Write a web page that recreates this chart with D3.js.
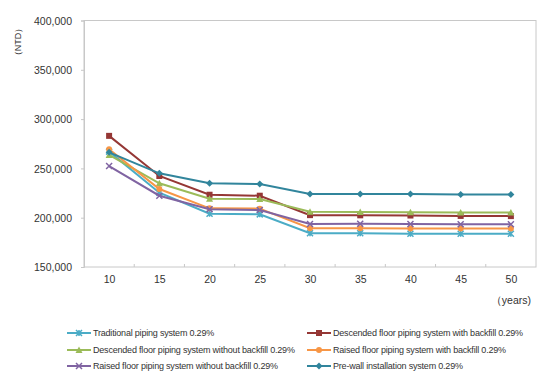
<!DOCTYPE html>
<html><head><meta charset="utf-8">
<script src="https://cdn.jsdelivr.net/npm/d3@7"></script>
<style>body{margin:0;background:#fff}svg{display:block}text{font-family:"Liberation Sans",Arial,sans-serif;fill:#333}</style>
</head><body><svg id="c" width="550" height="383"></svg>
<script>
const years = [10,15,20,25,30,35,40,45,50];
const yTicks = [150000,200000,250000,300000,350000,400000];
const seriesNames = [
 "Traditional piping system 0.29%",
 "Descended floor piping system with backfill 0.29%",
 "Descended floor piping system without backfill 0.29%",
 "Raised floor piping system with backfill 0.29%",
 "Raised floor piping system without backfill 0.29%",
 "Pre-wall installation system 0.29%"
];
const traditional = [267000,225400,204000,203400,184200,184200,183800,183800,183800];
const descendedWith = [283000,242300,223300,222300,202600,202400,202200,201800,201600];
const descendedWithout = [263600,234900,219300,219000,206000,205700,205500,205400,205300];
const raisedWith = [269400,229100,209500,209200,189300,189300,189100,189000,189000];
const raisedWithout = [252400,222300,208500,207800,193600,193800,193700,193300,193300];
const preWall = [266300,245000,234900,234200,224000,224000,224000,223500,223500];
const seriesValues = [traditional,descendedWith,descendedWithout,raisedWith,raisedWithout,preWall];
const colors = ["#4bacc6","#953735","#9bbb59","#f79646","#8064a2","#31859c"];
const markers = ["star","square","triangle","circle","cross","diamond"];

const svg = d3.select("#c");
const L=84,R=536,T=20.5,B=267;
const x = d3.scalePoint().domain(years).range([L,R]).padding(0.5);
const xb = d3.scaleBand().domain(years).range([L,R]);
const y = d3.scaleLinear().domain([150000,400000]).range([B,T]);

// frame
svg.append("rect").attr("x",L).attr("y",T).attr("width",R-L).attr("height",B-T)
  .attr("fill","none").attr("stroke","#c8c8c8").attr("stroke-width",1);

// y axis
const yAxis = svg.append("g").attr("transform",`translate(${L},0)`)
  .call(d3.axisLeft(y).tickValues(yTicks).tickSize(3).tickPadding(9).tickFormat(d3.format(",")));
yAxis.select(".domain").attr("stroke","#c8c8c8");
yAxis.selectAll(".tick line").attr("stroke","#c8c8c8");
yAxis.selectAll("text").attr("font-size",10.5).attr("fill","#333").attr("dy","0.35em").attr("y",0);

// x axis
const xAxis = svg.append("g").attr("transform",`translate(0,${B})`)
  .call(d3.axisBottom(x).tickSize(0).tickPadding(9));
xAxis.select(".domain").remove();
xAxis.selectAll("text").attr("font-size",10.5).attr("fill","#333");
svg.append("g").selectAll("line").data(years.slice(1)).join("line")
  .attr("x1",d=>xb(d)).attr("x2",d=>xb(d)).attr("y1",B).attr("y2",B-3)
  .attr("stroke","#c8c8c8");

svg.append("text").attr("x",531).attr("y",304).attr("text-anchor","end").attr("font-size",10.5).text("（years)");
svg.append("text").attr("transform","translate(21,42) rotate(-90)").attr("text-anchor","middle").attr("font-size",9).text("（NTD）");

function drawMarker(g, type, color, cx, cy){
  const s=3;
  if(type==="square") g.append("rect").attr("x",cx-s).attr("y",cy-s).attr("width",2*s).attr("height",2*s).attr("fill",color);
  else if(type==="circle") g.append("circle").attr("cx",cx).attr("cy",cy).attr("r",s).attr("fill",color);
  else if(type==="triangle") g.append("path").attr("d",`M${cx},${cy-s-0.5}L${cx+s+0.5},${cy+s}L${cx-s-0.5},${cy+s}Z`).attr("fill",color);
  else if(type==="diamond") g.append("path").attr("d",`M${cx},${cy-s-0.5}L${cx+s+0.5},${cy}L${cx},${cy+s+0.5}L${cx-s-0.5},${cy}Z`).attr("fill",color);
  else if(type==="cross") g.append("path").attr("d",`M${cx-s},${cy-s}L${cx+s},${cy+s}M${cx-s},${cy+s}L${cx+s},${cy-s}`).attr("stroke",color).attr("stroke-width",1.5);
  else if(type==="star") g.append("path").attr("d",`M${cx-s},${cy-s}L${cx+s},${cy+s}M${cx-s},${cy+s}L${cx+s},${cy-s}M${cx},${cy-s}L${cx},${cy+s}`).attr("stroke",color).attr("stroke-width",1.5);
}

const line = d3.line().x((d,i)=>x(years[i])).y(d=>y(d));
seriesValues.forEach((vals,k)=>{
  const g = svg.append("g");
  g.append("path").datum(vals).attr("d",line).attr("fill","none").attr("stroke",colors[k]).attr("stroke-width",2);
  vals.forEach((v,i)=>drawMarker(g,markers[k],colors[k],x(years[i]),y(v)));
});

// legend
const legPos = [[67,333],[307,333],[67,350],[307,350],[67,366],[307,366]];
seriesNames.forEach((n,k)=>{
  const [lx,ly]=legPos[k];
  const g=svg.append("g");
  g.append("line").attr("x1",lx).attr("x2",lx+24).attr("y1",ly).attr("y2",ly).attr("stroke",colors[k]).attr("stroke-width",2);
  drawMarker(g,markers[k],colors[k],lx+12,ly);
  g.append("text").attr("x",lx+26).attr("y",ly).attr("dy","0.35em").attr("font-size",9).attr("letter-spacing",-0.2).text(n);
});
</script></body></html>
